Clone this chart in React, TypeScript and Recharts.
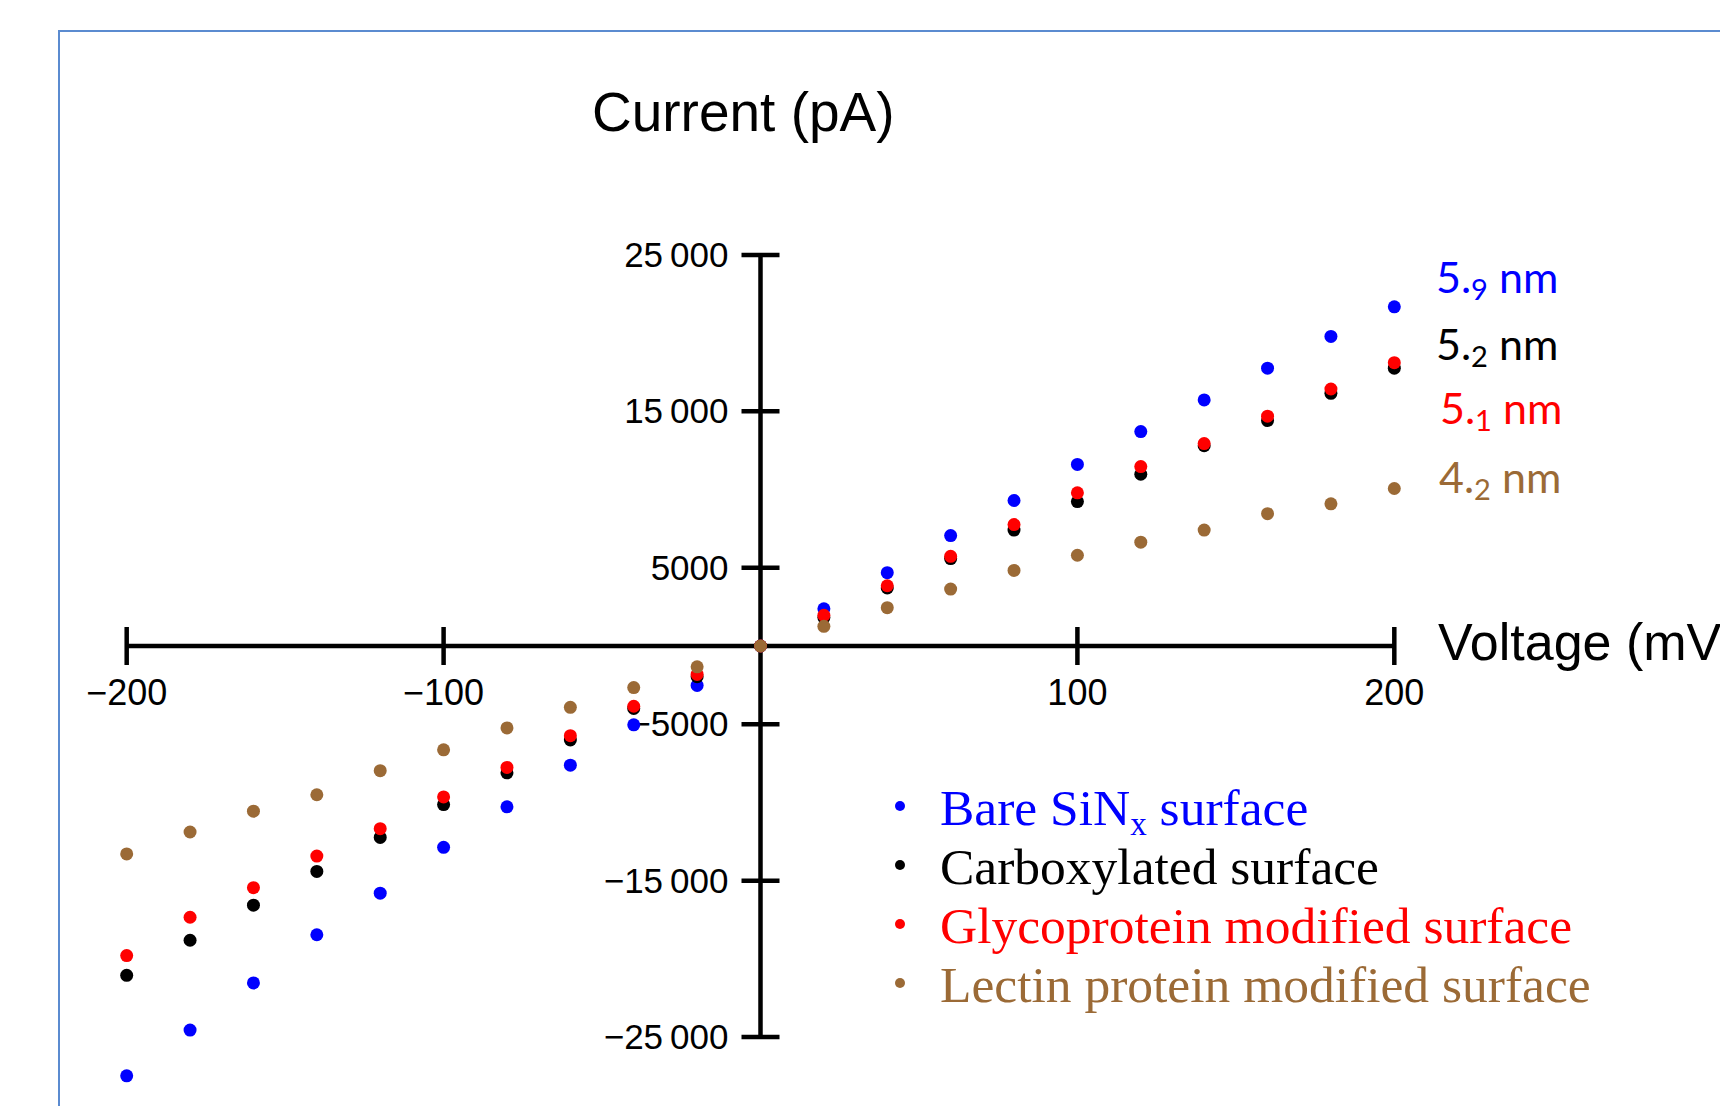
import { ScatterChart, Scatter, XAxis, YAxis, ReferenceLine, ReferenceDot } from 'recharts'

// voltage steps (mV)
const voltages = [-200, -180, -160, -140, -120, -100, -80, -60, -40, -20, 0, 20, 40, 60, 80, 100, 120, 140, 160, 180, 200]

// current (pA)
const bare = [-27480, -24550, -21540, -18460, -15800, -12870, -10280, -7620, -5040, -2520, 0, 2380, 4690, 7060, 9300, 11610, 13710, 15730, 17760, 19790, 21680]
const carboxylated = [-21050, -18810, -16570, -14410, -12240, -10140, -8110, -6010, -3990, -1960, 0, 1820, 3710, 5590, 7410, 9230, 10980, 12800, 14410, 16150, 17760]
const glycoprotein = [-19790, -17340, -15450, -13430, -11680, -9650, -7760, -5730, -3850, -1820, 0, 1960, 3850, 5730, 7760, 9790, 11470, 12940, 14690, 16430, 18110]
const lectin = [-13290, -11890, -10560, -9510, -7970, -6640, -5240, -3920, -2660, -1330, 0, 1260, 2450, 3640, 4830, 5800, 6640, 7410, 8460, 9090, 10070]

const xTicks = [-200, -100, 100, 200]
const yTicks = [25000, 15000, 5000, -5000, -15000, -25000]

const BLUE = '#0000ff'
const BLACK = '#000000'
const RED = '#ff0000'
const BROWN = '#9b6a36'

const series = [
  { name: 'Bare', values: bare, color: BLUE },
  { name: 'Carboxylated', values: carboxylated, color: BLACK },
  { name: 'Glycoprotein', values: glycoprotein, color: RED },
  { name: 'Lectin', values: lectin, color: BROWN },
]

const sizeLabels = [
  { main: '5.', sub: '9', color: BLUE, x: 1436, y: 293 },
  { main: '5.', sub: '2', color: BLACK, x: 1436, y: 360 },
  { main: '5.', sub: '1', color: RED, x: 1440, y: 424 },
  { main: '4.', sub: '2', color: BROWN, x: 1439, y: 493 },
]

const SANS = '"Liberation Sans", Arial, sans-serif'
const SERIF = '"Liberation Serif", "Times New Roman", serif'

const fmt = (v: number) => {
  const s = Math.abs(v) >= 10000 ? Math.abs(v).toString().replace(/(\d+)(\d{3})$/, '$1\u2009$2') : Math.abs(v).toString()
  return v < 0 ? '\u2212' + s : s
}

const dot = (color: string) => (p: any) => <circle cx={p.cx} cy={p.cy} r={6.5} fill={color} />

export default function App() {
  return (
    <div style={{ position: 'absolute', left: 0, top: 0, width: 1720, height: 1106, overflow: 'hidden', background: '#fff' }}>
      <svg width={1720} height={1106} style={{ position: 'absolute', left: 0, top: 0 }}>
        <rect x={59} y={31} width={1700} height={1100} fill="none" stroke="#5b8bd0" strokeWidth={2} />
        <text x={592} y={131} fontFamily={SANS} fontSize={55} fill="#000">Current (pA)</text>
        <text x={1438} y={660} fontFamily={SANS} fontSize={52} fill="#000">Voltage (mV)</text>
        {sizeLabels.map(l => (
          <text key={l.color} x={l.x} y={l.y} fontFamily="Lato, sans-serif" fontSize={43} fill={l.color}>
            {l.main}<tspan fontSize={29} dy={7}>{l.sub}</tspan><tspan dy={-7}> nm</tspan>
          </text>
        ))}
        {/* legend */}
        {[
          { color: BLUE, y: 825, text: <>Bare SiN<tspan fontSize={33} dy={10}>x</tspan><tspan dy={-10}> surface</tspan></> },
          { color: BLACK, y: 884, text: <>Carboxylated surface</> },
          { color: RED, y: 943, text: <>Glycoprotein modified surface</> },
          { color: BROWN, y: 1002, text: <>Lectin protein modified surface</> },
        ].map(r => (
          <g key={r.color}>
            <circle cx={900} cy={r.y - 19} r={5} fill={r.color} />
            <text x={940} y={r.y} fontFamily={SERIF} fontSize={51.5} fill={r.color}>{r.text}</text>
          </g>
        ))}
      </svg>
      <div style={{ position: 'absolute', left: 0, top: 0 }}>
        <ScatterChart width={1720} height={1106} margin={{ top: 208, right: 294, bottom: 22, left: 95 }}>
          <XAxis type="number" dataKey="v" domain={[-210, 210]} hide />
          <YAxis type="number" dataKey="i" domain={[-28000, 28000]} hide />
          <ReferenceLine segment={[{ x: -200, y: 0 }, { x: 200, y: 0 }]} stroke="#000" strokeWidth={4.5} ifOverflow="visible" />
          <ReferenceLine segment={[{ x: 0, y: -25000 }, { x: 0, y: 25000 }]} stroke="#000" strokeWidth={4.5} ifOverflow="visible" />
          {xTicks.map(t => (
            <ReferenceDot key={'x' + t} x={t} y={0} r={0} ifOverflow="visible"
              shape={(p: any) => (
                <g>
                  <line x1={p.cx} x2={p.cx} y1={p.cy - 19} y2={p.cy + 19} stroke="#000" strokeWidth={4.5} />
                  <text x={p.cx} y={p.cy + 59} textAnchor="middle" fontFamily={SANS} fontSize={36} fill="#000">{fmt(t)}</text>
                </g>
              )}
            />
          ))}
          {yTicks.map(t => (
            <ReferenceDot key={'y' + t} x={0} y={t} r={0} ifOverflow="visible"
              shape={(p: any) => (
                <g>
                  <line x1={p.cx - 19} x2={p.cx + 19} y1={p.cy} y2={p.cy} stroke="#000" strokeWidth={4.5} />
                  <text x={p.cx - 32} y={p.cy + 12} textAnchor="end" fontFamily={SANS} fontSize={35} fill="#000">{fmt(t)}</text>
                </g>
              )}
            />
          ))}
          {series.map(s => (
            <Scatter key={s.name} name={s.name} data={voltages.map((v, k) => ({ v, i: s.values[k] }))}
              fill={s.color} shape={dot(s.color)} isAnimationActive={false} />
          ))}
        </ScatterChart>
      </div>
    </div>
  )
}
